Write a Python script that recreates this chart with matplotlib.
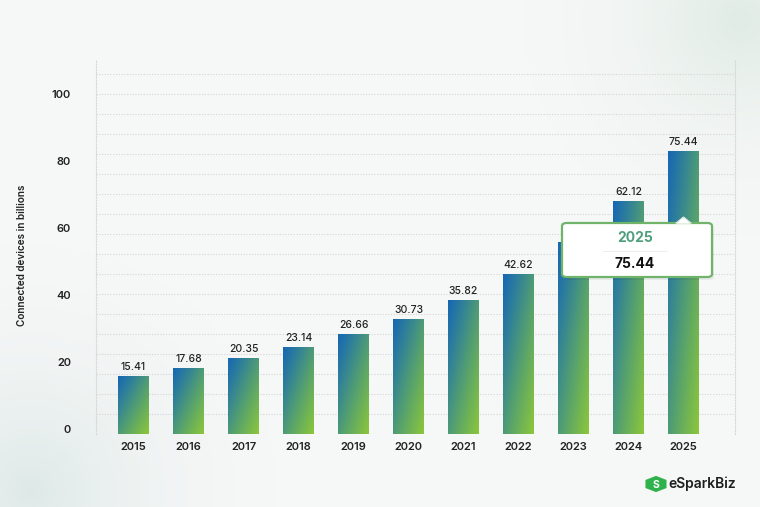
import numpy as np
import matplotlib
matplotlib.use("Agg")
import matplotlib.pyplot as plt
from matplotlib.colors import LinearSegmentedColormap
from matplotlib.patches import FancyBboxPatch, Polygon, RegularPolygon

years = ["2015", "2016", "2017", "2018", "2019", "2020", "2021", "2022", "2023", "2024", "2025"]
devices = [15.41, 17.68, 20.35, 23.14, 26.66, 30.73, 35.82, 42.62, 51.11, 62.12, 75.44]
ytick_values = [0, 20, 40, 60, 80, 100]
ylabel_text = "Connected devices in billions"
tooltip_year = "2025"
tooltip_value = "75.44"

plt.rcParams['font.family'] = ['Inter', 'DejaVu Sans']

W, H = 760, 507
fig = plt.figure(figsize=(W / 100, H / 100), dpi=100)
fig.patch.set_facecolor('#f6f7f7')

def fx(x):
    return x / W

def fy(y):
    return 1 - y / H

# soft background glows
bg = fig.add_axes([0, 0, 1, 1], zorder=-10)
yy, xx = np.mgrid[0:H, 0:W]
base = np.array([0.965, 0.969, 0.969])
img = np.ones((H, W, 3)) * base
def glow(cx, cy, r, col, strength):
    d = np.sqrt((xx - cx) ** 2 + (yy - cy) ** 2) / r
    a = np.clip(1 - d, 0, 1) ** 2 * strength
    return a[..., None] * (np.array(col) - base)
img += glow(30, 490, 260, [0.86, 0.91, 0.90], 0.9)
img += glow(740, 20, 230, [0.87, 0.92, 0.89], 0.9)
bg.imshow(np.clip(img, 0, 1), extent=[0, W, H, 0], aspect='auto')
bg.set_axis_off()

# main axes
left, right, top, bottom = 96, 735, 60, 434
ax = fig.add_axes([fx(left), fy(bottom), fx(right - left), (bottom - top) / H])
ax.set_facecolor('none')
px_per_unit = 3.75
ax.set_ylim(0, (bottom - top) / px_per_unit)
slot = 55.0
x_lo = -(133.5 - left) / slot
x_hi = 10 + (right - 683.5) / slot
ax.set_xlim(x_lo, x_hi)

x = np.arange(len(years))
bars = ax.bar(x, devices, width=31 / slot, color='none', edgecolor='none', zorder=3)

cmap = LinearSegmentedColormap.from_list('g', ['#1667b4', '#2f7f9a', '#4d9a78', '#6cb158', '#8cc63b'])
ny, nx = 100, 40
gy, gx = np.mgrid[0:ny, 0:nx]
grad = (gx / (nx - 1) + gy / (ny - 1)) / 2
for b in bars:
    x0, w, h = b.get_x(), b.get_width(), b.get_height()
    im = ax.imshow(grad, extent=[x0, x0 + w, 0, h], origin='upper', cmap=cmap,
                   aspect='auto', zorder=3, vmin=0, vmax=1)
    im.set_clip_path(b)

ax.set_xlim(x_lo, x_hi)
ax.set_ylim(0, (bottom - top) / px_per_unit)

for xi, v in zip(x, devices):
    ax.annotate(f"{v:.2f}", (xi, v), xytext=(0, 3), textcoords='offset points',
                ha='center', va='bottom', fontsize=7.5, color='#222222', fontweight='medium', zorder=5)

# dotted grid every 20 px
ax.set_yticks(np.arange(0, 361, 20) / px_per_unit, minor=True)
ax.grid(True, which='minor', axis='y', color='#d4d4d4', linestyle=(0, (1, 1.5)), linewidth=0.8, zorder=0)
ax.set_yticks([])
for s in ['top', 'bottom']:
    ax.spines[s].set_visible(False)
for s in ['left', 'right']:
    ax.spines[s].set_color('#d8d8d8')
    ax.spines[s].set_linestyle((0, (1, 1.5)))
    ax.spines[s].set_linewidth(0.8)
ax.tick_params(axis='y', which='both', length=0)
ax.set_xticks(x)
ax.set_xticklabels(years, fontsize=8, fontweight='semibold', color='#222222')
ax.tick_params(axis='x', length=0, pad=6)

# tick label axis
axl = fig.add_axes(ax.get_position(), sharex=None)
axl.patch.set_visible(False)
for s in axl.spines.values():
    s.set_visible(False)
scale_lbl = 3.35
zero_off = (bottom - 429) / scale_lbl
axl.set_ylim(-zero_off, (bottom - top) / scale_lbl - zero_off)
axl.set_yticks(ytick_values)
axl.set_yticklabels([str(v) for v in ytick_values], fontsize=8, fontweight='semibold', color='#222222')
axl.tick_params(axis='y', length=0, pad=18)
axl.set_xticks([])

fig.text(fx(22), fy(255), ylabel_text, rotation=90, ha='center', va='center',
         fontsize=7.2, fontweight='semibold', color='#222222')

# tooltip
tx0, ty0, tx1, ty1 = 562, 223, 712, 277
shadow = FancyBboxPatch((fx(tx0 + 2), fy(ty1 + 3)), fx(tx1 - tx0), (ty1 - ty0) / H,
                        boxstyle="round,pad=0,rounding_size=0.006", transform=fig.transFigure,
                        facecolor='#000000', alpha=0.06, edgecolor='none', zorder=8)
fig.add_artist(shadow)
box = FancyBboxPatch((fx(tx0), fy(ty1)), fx(tx1 - tx0), (ty1 - ty0) / H,
                     boxstyle="round,pad=0,rounding_size=0.006", transform=fig.transFigure,
                     facecolor='white', edgecolor='#6fb46a', linewidth=1.6, zorder=9)
fig.add_artist(box)
arrow = Polygon([(fx(676), fy(ty0 + 0.8)), (fx(683.5), fy(217)), (fx(691), fy(ty0 + 0.8))],
                closed=True, transform=fig.transFigure, facecolor='white', edgecolor='none', zorder=10)
fig.add_artist(arrow)
fig.add_artist(plt.Line2D([fx(676), fx(683.5), fx(691)], [fy(ty0), fy(217), fy(ty0)],
                          transform=fig.transFigure, color='#e4ece6', linewidth=0.8, zorder=10))
fig.text(fx(635), fy(238), tooltip_year, ha='center', va='center', fontsize=10,
         fontweight='bold', color='#4f9e7c', zorder=11)
fig.add_artist(plt.Line2D([fx(603), fx(667)], [fy(251), fy(251)], transform=fig.transFigure,
                          color='#eeeeee', linewidth=0.8, zorder=11))
fig.text(fx(635), fy(264), tooltip_value, ha='center', va='center', fontsize=10,
         fontweight='bold', color='#111111', zorder=11)

# logo
fig.add_artist(RegularPolygon((fx(656), fy(484)), numVertices=6, radius=0.016,
                              transform=fig.transFigure, facecolor='#2fb24c', edgecolor='none', zorder=11))
fig.text(fx(656), fy(484.5), "S", ha='center', va='center', fontsize=7.5, fontweight='bold',
         color='white', zorder=12)
fig.text(fx(668), fy(484), "eSparkBiz", ha='left', va='center', fontsize=10,
         fontweight='semibold', color='#1d1d1d', zorder=11)

fig.savefig("out.png", dpi=100, facecolor=fig.get_facecolor())
